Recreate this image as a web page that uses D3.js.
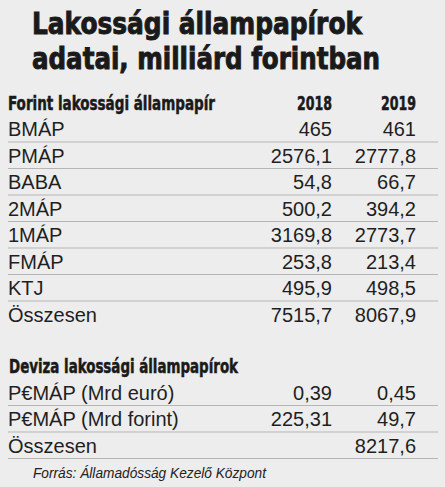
<!DOCTYPE html>
<html><head><meta charset="utf-8">
<script src="https://cdn.jsdelivr.net/npm/d3@7/dist/d3.min.js"></script>
<style>
html,body{margin:0;padding:0;background:#ededed;}
svg{display:block;}
</style></head><body>
<script>
const titleLines = ["Lakossági állampapírok", "adatai, milliárd forintban"];
const header1 = "Forint lakossági állampapír";
const yearLabels = ["2018", "2019"];
const categories1 = ["BMÁP", "PMÁP", "BABA", "2MÁP", "1MÁP", "FMÁP", "KTJ", "Összesen"];
const values2018 = ["465", "2576,1", "54,8", "500,2", "3169,8", "253,8", "495,9", "7515,7"];
const values2019 = ["461", "2777,8", "66,7", "394,2", "2773,7", "213,4", "498,5", "8067,9"];
const header2 = "Deviza lakossági állampapírok";
const categories2 = ["P€MÁP (Mrd euró)", "P€MÁP (Mrd forint)", "Összesen"];
const deviza2018 = ["0,39", "225,31", ""];
const deviza2019 = ["0,45", "49,7", "8217,6"];
const source = "Forrás: Államadósság Kezelő Központ";

const W = 445, H = 487;
const svg = d3.select("body").append("svg").attr("width", W).attr("height", H);
svg.append("rect").attr("width", W).attr("height", H).attr("fill", "#ededed");

const condensed = "'Liberation Sans Narrow','DejaVu Sans Condensed','Arial Narrow',sans-serif";
const body = "'Liberation Sans',Arial,sans-serif";

// title
const titleY = d3.scaleLinear().domain([0, 1]).range([34, 69]);
const titleW = [330, 348];
svg.selectAll("text.title").data(titleLines).join("text")
  .attr("class", "title")
  .attr("x", 32).attr("y", (d, i) => titleY(i))
  .attr("font-family", condensed).attr("font-weight", 700).attr("font-size", 30)
  .attr("fill", "#1a1a1a").attr("stroke", "#1a1a1a").attr("stroke-width", 0.9)
  .attr("textLength", (d, i) => titleW[i]).attr("lengthAdjust", "spacingAndGlyphs")
  .text(d => d);

// columns
const colX = d3.scaleOrdinal().domain(["label", "2018", "2019"]).range([8, 332, 416]);
const lineX = d3.scaleLinear().domain([0, 1]).range([8, 438]);

// header 1
svg.append("text").attr("x", colX("label")).attr("y", 110)
  .attr("font-family", condensed).attr("font-weight", 700).attr("font-size", 19)
  .attr("fill", "#1a1a1a").attr("stroke", "#1a1a1a").attr("stroke-width", 0.5)
  .attr("textLength", 207).attr("lengthAdjust", "spacingAndGlyphs").text(header1);
svg.selectAll("text.year").data(yearLabels).join("text")
  .attr("class", "year").attr("x", d => colX(d)).attr("y", 110)
  .attr("text-anchor", "end")
  .attr("font-family", condensed).attr("font-weight", 700).attr("font-size", 19)
  .attr("fill", "#1a1a1a").attr("stroke", "#1a1a1a").attr("stroke-width", 0.5)
  .attr("textLength", 35).attr("lengthAdjust", "spacingAndGlyphs")
  .text(d => d);

function section(cats, v18, v19, yStart, lineRows) {
  const y = d3.scaleLinear().domain([0, 1]).range([yStart, yStart + 26.5]);
  const g = svg.append("g");
  g.selectAll("line").data(lineRows).join("line")
    .attr("x1", lineX(0)).attr("x2", lineX(1))
    .attr("y1", i => y(i) + 6).attr("y2", i => y(i) + 6)
    .attr("stroke", "#b5b5b5").attr("stroke-width", 1);
  const rows = cats.map((c, i) => ({c, a: v18[i], b: v19[i], i}));
  g.selectAll("text.lab").data(rows).join("text").attr("class", "lab")
    .attr("x", colX("label")).attr("y", d => y(d.i))
    .attr("font-family", body).attr("font-size", 20).attr("fill", "#1f1f1f").text(d => d.c);
  g.selectAll("text.a").data(rows).join("text").attr("class", "a")
    .attr("x", colX("2018")).attr("y", d => y(d.i)).attr("text-anchor", "end")
    .attr("font-family", body).attr("font-size", 20).attr("fill", "#1f1f1f").text(d => d.a);
  g.selectAll("text.b").data(rows).join("text").attr("class", "b")
    .attr("x", colX("2019")).attr("y", d => y(d.i)).attr("text-anchor", "end")
    .attr("font-family", body).attr("font-size", 20).attr("fill", "#1f1f1f").text(d => d.b);
}
section(categories1, values2018, values2019, 136, d3.range(7));

svg.append("text").attr("x", 9).attr("y", 372.5)
  .attr("font-family", condensed).attr("font-weight", 700).attr("font-size", 19)
  .attr("fill", "#1a1a1a").attr("stroke", "#1a1a1a").attr("stroke-width", 0.5)
  .attr("textLength", 229).attr("lengthAdjust", "spacingAndGlyphs").text(header2);

section(categories2, deviza2018, deviza2019, 399.5, d3.range(3));

svg.append("text").attr("x", 33).attr("y", 478)
  .attr("font-family", body).attr("font-style", "italic").attr("font-size", 14)
  .attr("fill", "#222").attr("textLength", 233).attr("lengthAdjust", "spacingAndGlyphs")
  .text(source);
</script>
</body></html>
